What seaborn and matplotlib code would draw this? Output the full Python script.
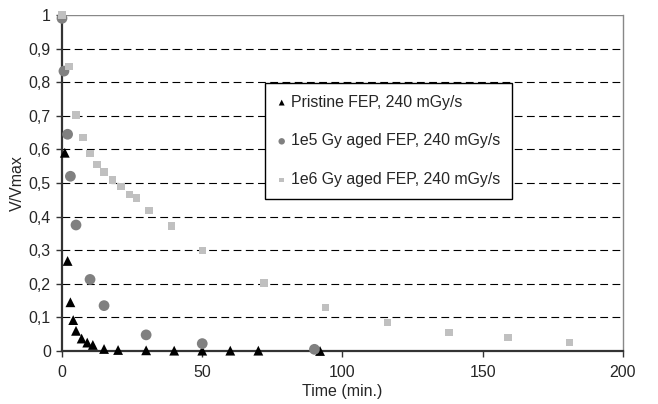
import matplotlib
matplotlib.use('Agg')
import matplotlib.pyplot as plt
import pandas as pd
import seaborn as sns

# Pristine FEP, 240 mGy/s
t_pristine = [1, 2, 3, 4, 5, 7, 9, 11, 15, 20, 30, 40, 50, 60, 70, 92]
v_pristine = [0.59, 0.268, 0.145, 0.092, 0.06, 0.037, 0.025, 0.018, 0.006, 0.003,
              0.002, 0.001, 0.001, 0.001, 0.001, 0.0]

# 1e5 Gy aged FEP, 240 mGy/s
t_1e5 = [0, 0.7, 2, 3, 5, 10, 15, 30, 50, 90]
v_1e5 = [0.99, 0.833, 0.645, 0.52, 0.375, 0.213, 0.135, 0.048, 0.022, 0.005]

# 1e6 Gy aged FEP, 240 mGy/s
t_1e6 = [0, 2.5, 5, 7.5, 10, 12.5, 15, 18, 21, 24, 26.5, 31, 39,
         50, 72, 94, 116, 138, 159, 181]
v_1e6 = [1.0, 0.846, 0.702, 0.635, 0.587, 0.556, 0.533, 0.509, 0.49, 0.466, 0.455,
         0.418, 0.372, 0.30, 0.202, 0.13, 0.084, 0.055, 0.04, 0.025]

labels = ['Pristine FEP, 240 mGy/s', '1e5 Gy aged FEP, 240 mGy/s', '1e6 Gy aged FEP, 240 mGy/s']
y_ticks = [0, 0.1, 0.2, 0.3, 0.4, 0.5, 0.6, 0.7, 0.8, 0.9, 1.0]
y_tick_labels = ['0', '0,1', '0,2', '0,3', '0,4', '0,5', '0,6', '0,7', '0,8', '0,9', '1']
x_ticks = [0, 50, 100, 150, 200]


def main():
    sns.set_theme(style='white')
    plt.rcParams['font.family'] = ['Liberation Sans', 'DejaVu Sans']

    df_p = pd.DataFrame({'t': t_pristine, 'v': v_pristine})
    df_a = pd.DataFrame({'t': t_1e5, 'v': v_1e5})
    df_b = pd.DataFrame({'t': t_1e6, 'v': v_1e6})

    fig = plt.figure(figsize=(6.58, 4.04), dpi=100)
    ax = fig.add_axes([0.0942, 0.1312, 0.8526, 0.8317])

    # grid lines
    for yv in y_ticks[1:-1]:
        ax.axhline(yv, color='black', lw=0.8, linestyle=(0, (7, 4)), zorder=1)
    ax.axhline(1.0, color='#888888', lw=1.0, zorder=1)

    sns.scatterplot(data=df_p, x='t', y='v', marker='^', s=50, color='black',
                    edgecolor='none', label=labels[0], ax=ax, zorder=3, clip_on=False)
    sns.scatterplot(data=df_a, x='t', y='v', marker='o', s=60, color='#808080',
                    edgecolor='none', label=labels[1], ax=ax, zorder=3, clip_on=False)
    sns.scatterplot(data=df_b, x='t', y='v', marker='s', s=28, color='#c0c0c0',
                    edgecolor='none', label=labels[2], ax=ax, zorder=4, clip_on=False)

    ax.set_xlim(0, 200)
    ax.set_ylim(0, 1)
    ax.set_xticks(x_ticks)
    ax.set_xticklabels([str(x) for x in x_ticks])
    ax.set_yticks(y_ticks)
    ax.set_yticklabels(y_tick_labels)
    ax.tick_params(axis='both', which='major', direction='out', length=4, width=1,
                   color='#333333', labelsize=11.5, bottom=True, left=True)
    ax.tick_params(axis='x', pad=6)
    ax.tick_params(axis='y', pad=4)

    ax.set_xlabel('Time (min.)', fontsize=11.5, labelpad=3)
    ax.set_ylabel('V/Vmax', fontsize=11.5, labelpad=3)

    for side in ['left', 'bottom']:
        ax.spines[side].set_color('#333333')
        ax.spines[side].set_linewidth(1.6)
    ax.spines['right'].set_color('#888888')
    ax.spines['right'].set_linewidth(1.0)
    ax.spines['top'].set_visible(False)

    leg = ax.legend(loc='upper left', bbox_to_anchor=(0.362, 0.798), fontsize=11.4,
                    frameon=True, fancybox=False, framealpha=1, edgecolor='black',
                    markerscale=0.6, handlelength=0.6, handletextpad=0.3,
                    labelspacing=1.5, borderpad=0.75, borderaxespad=0)
    leg.get_frame().set_linewidth(1.0)
    leg.set_zorder(5)

    fig.savefig('out.png', dpi=100)
    plt.close(fig)


if __name__ == '__main__':
    main()
